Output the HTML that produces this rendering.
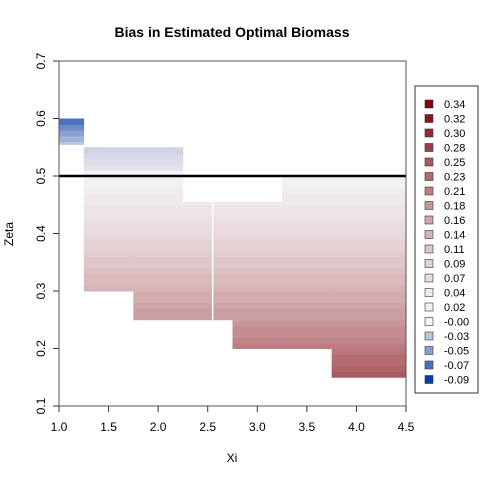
<!DOCTYPE html>
<html><head><meta charset="utf-8"><style>body{margin:0;background:#fff}svg text{font-family:"Liberation Sans",sans-serif}</style></head>
<body>
<svg id="c" width="480" height="480" xmlns="http://www.w3.org/2000/svg"></svg>
<script>
// regions: xi start, xi end, zeta start, zeta end
const regionXi0=[1.0,1.25,1.75,2.25,2.55,2.75,3.25,3.75];
const regionXi1=[1.25,1.75,2.25,2.55,2.75,3.25,3.75,4.5];
const regionZ0=[0.555,0.30,0.25,0.25,0.25,0.20,0.20,0.15];
const regionZ1=[0.60,0.55,0.55,0.455,0.455,0.455,0.50,0.50];
// bias per zeta row (0.01 steps) starting at zeta 0.15
const zetaRows=[];for(let i=0;i<45;i++)zetaRows.push(0.15+i*0.01);
const biasRows=[0.25,0.24,0.23,0.23,0.22,0.21,0.20,0.19,0.19,0.18,0.17,0.17,0.16,0.15,0.15,0.14,0.13,0.13,0.12,0.11,0.11,0.10,0.09,0.09,0.08,0.07,0.07,0.06,0.05,0.05,0.04,0.04,0.03,0.02,0.02,0.01,-0.005,-0.01,-0.015,-0.02,-0.03,-0.04,-0.05,-0.06,-0.07];
const legendLabels=["0.34","0.32","0.30","0.28","0.25","0.23","0.21","0.18","0.16","0.14","0.11","0.09","0.07","0.04","0.02","-0.00","-0.03","-0.05","-0.07","-0.09"];
const xTicks=[1.0,1.5,2.0,2.5,3.0,3.5,4.0,4.5];
const yTicks=[0.1,0.2,0.3,0.4,0.5,0.6,0.7];
const refLine=0.5;

const NS="http://www.w3.org/2000/svg",svg=document.getElementById('c');
const X=v=>59+(v-1)/3.5*347, Y=v=>406-(v-0.1)/0.6*345;
function mk(t,a,p){const e=document.createElementNS(NS,t);for(const k in a)e.setAttribute(k,a[k]);(p||svg).appendChild(e);return e;}
function col(v){
  if(v>=0){const t=Math.pow(Math.min(v/0.34,1),1.5);return `rgb(${Math.round(245-117*t)},${Math.round(243-243*t)},${Math.round(243-230*t)})`;}
  const t=Math.pow(Math.min(-v/0.09,1),1.5);return `rgb(${Math.round(228-218*t)},${Math.round(228-168*t)},${Math.round(236-66*t)})`;
}
const g=mk('g',{});
for(let r=0;r<regionXi0.length;r++){
  for(let i=0;i<zetaRows.length;i++){
    const z0=Math.max(zetaRows[i],regionZ0[r]),z1=Math.min(zetaRows[i]+0.01,regionZ1[r]);
    if(z1<=z0)continue;
    const e=mk('rect',{x:X(regionXi0[r]),y:Y(z1),width:X(regionXi1[r])-X(regionXi0[r])+0.3,height:Y(z0)-Y(z1)+0.5,fill:col(biasRows[i])},g);
    
    
  }
}
mk('line',{x1:X(2.55),x2:X(2.55),y1:Y(0.455),y2:Y(0.25),stroke:'#fff','stroke-width':1.5});
const rl=mk('line',{x1:59,x2:406,y1:Y(refLine),y2:Y(refLine),stroke:'#000','stroke-width':2.5});

const box=mk('rect',{x:59,y:61,width:347,height:345,fill:'none',stroke:'#555'});

xTicks.forEach(v=>{mk('line',{x1:X(v),x2:X(v),y1:406,y2:412,stroke:'#333'});
  const t=mk('text',{x:X(v),y:431,'font-size':12,'text-anchor':'middle'});t.textContent=v.toFixed(1);
  });
yTicks.forEach(v=>{mk('line',{x1:53,x2:59,y1:Y(v),y2:Y(v),stroke:'#333'});
  const t=mk('text',{x:45,y:Y(v),'font-size':12,'text-anchor':'middle',transform:`rotate(-90 45 ${Y(v)})`});t.textContent=v.toFixed(1);
  });
let t=mk('text',{x:232,y:37,'font-size':14,'font-weight':'bold','text-anchor':'middle'});t.textContent='Bias in Estimated Optimal Biomass';

t=mk('text',{x:232,y:462,'font-size':12,'text-anchor':'middle'});t.textContent='Xi';

t=mk('text',{x:13,y:234,'font-size':12,'text-anchor':'middle',transform:'rotate(-90 13 234)'});t.textContent='Zeta';

const lg=mk('g',{});
mk('rect',{x:415,y:86,width:63,height:307,fill:'#fff',stroke:'#333'},lg);
legendLabels.forEach((l,i)=>{const y=104+i*14.5;
  const s=mk('rect',{x:425,y:y-4,width:8,height:8,fill:col(parseFloat(l)),stroke:'#333','stroke-width':0.6},lg);
  
  const tx=mk('text',{x:444,y:y+4,'font-size':11},lg);tx.textContent=l;
  });
</script>
</body></html>
